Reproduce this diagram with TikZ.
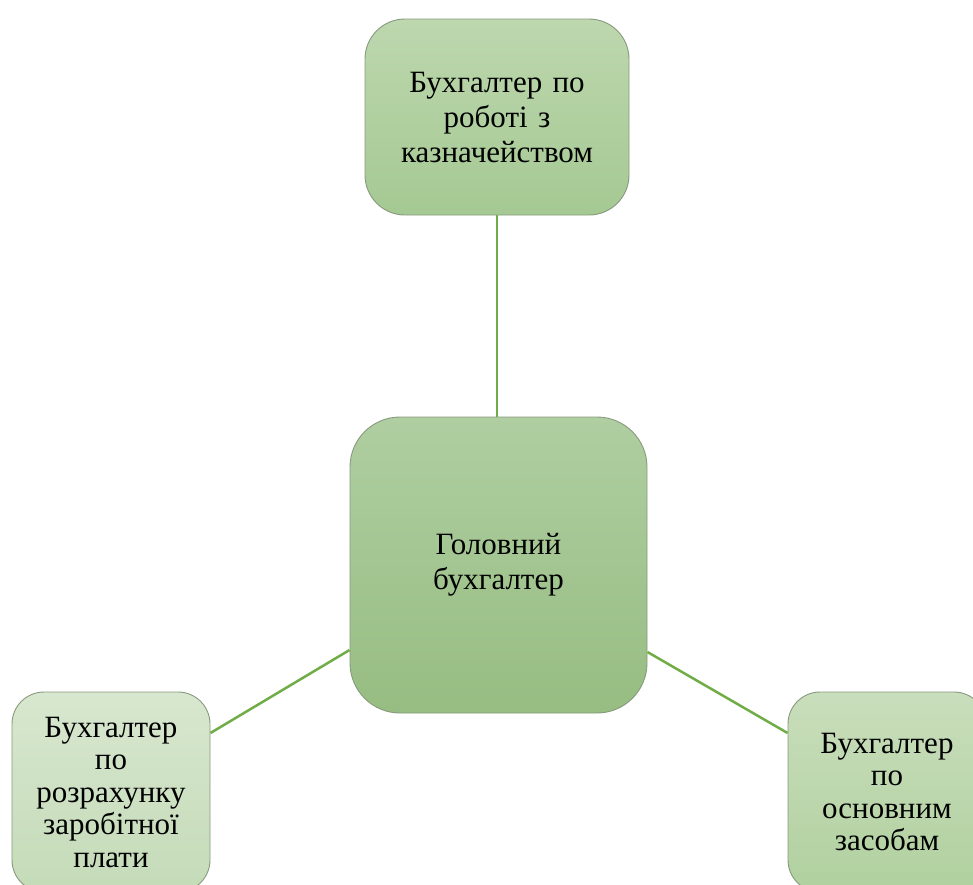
\documentclass[tikz,border=0pt]{standalone}
\usepackage{fontspec}
\setmainfont{Liberation Serif}
\newfontfamily\boxfont{Liberation Serif}
\definecolor{edgegreen}{HTML}{70AD47}
\definecolor{boxline}{HTML}{889A7E}
\definecolor{mainTop}{RGB}{175,206,161}
\definecolor{mainBot}{RGB}{151,189,130}
\definecolor{upTop}{RGB}{189,215,174}
\definecolor{upBot}{RGB}{165,201,147}
\definecolor{leftTop}{RGB}{216,231,207}
\definecolor{leftBot}{RGB}{196,219,184}
\definecolor{rightTop}{RGB}{201,222,188}
\definecolor{rightBot}{RGB}{176,208,158}
\begin{document}
\begin{tikzpicture}[x=1pt,y=-1pt,
  orgbox/.style={draw=boxline, line width=0.9pt, rounded corners=#1,
    inner sep=0pt, align=center, text=black},
  orgbox/.default=40pt,
  link/.style={draw=edgegreen, line width=2.5pt},
  bigtext/.style={font=\boxfont\fontsize{31}{35}\selectfont},
  smalltext/.style={font=\boxfont\fontsize{31}{32.5}\selectfont}]
\path[use as bounding box, clip] (0,0) rectangle (973,884);

% chief accountant in the middle
\node[orgbox=50pt, minimum width=297pt, minimum height=296pt,
      top color=mainTop, bottom color=mainBot,
      bigtext, text width=260pt] (main) at (498.5,565) {Головний\\бухгалтер};

% treasury accountant at the top
\node[orgbox=40pt, minimum width=264pt, minimum height=196pt,
      top color=upTop, bottom color=upBot,
      bigtext, text width=240pt] (top) at (497,117) {Бухгалтер по\\роботі з\\казначейством};

% payroll accountant, lower left
\node[orgbox=32pt, minimum width=198pt, minimum height=200pt,
      top color=leftTop, bottom color=leftBot,
      smalltext, text width=190pt] (left) at (111,792)
      {Бухгалтер\\по\\розрахунку\\заробітної\\плати};

% fixed assets accountant, lower right
\node[orgbox=32pt, minimum width=198pt, minimum height=200pt,
      top color=rightTop, bottom color=rightBot,
      smalltext, text width=190pt] (right) at (887,792)
      {Бухгалтер\\по\\основним\\засобам};

% connectors
\draw[link] (top.south) -- (top.south |- main.north);
\draw[link] ([yshift=59pt]left.east) -- ([yshift=-85pt]main.west);
\draw[link] ([yshift=-87pt]main.east) -- ([yshift=59pt]right.west);
\end{tikzpicture}
\end{document}
